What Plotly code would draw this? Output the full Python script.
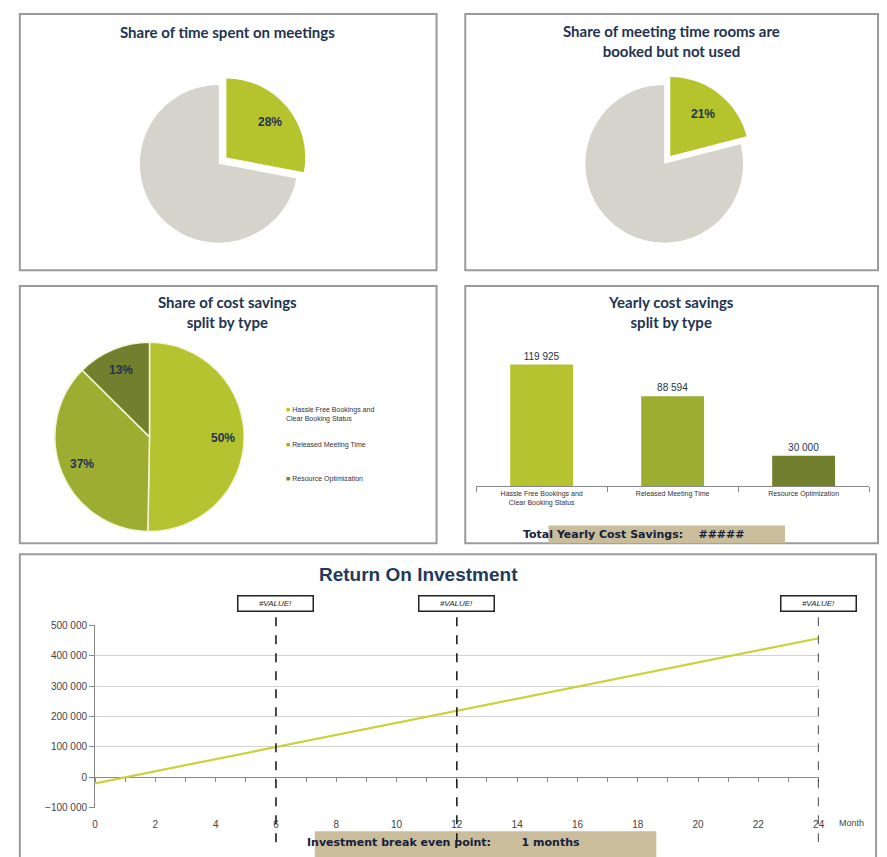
import math
import plotly.graph_objects as go

W, H = 887, 857

# ---------------- data ----------------
meeting_share_labels = ["Meetings", "Other"]
meeting_share_values = [28, 72]
unused_share_labels = ["Booked not used", "Used"]
unused_share_values = [21, 79]

saving_types = ["Hassle Free Bookings and Clear Booking Status",
                "Released Meeting Time",
                "Resource Optimization"]
saving_type_ticks = ["Hassle Free Bookings and<br>Clear Booking Status",
                     "Released Meeting Time",
                     "Resource Optimization"]
yearly_savings = [119925, 88594, 30000]

roi_months = list(range(0, 25))
roi_values = [-20000, -123, 19754, 39631, 59508, 79385, 99262, 119139, 139016,
              158893, 178770, 198647, 218524, 238401, 258278, 278155, 298032,
              317909, 337786, 357663, 377540, 397417, 417294, 437171, 457048]
marker_months = [6, 12, 24]
marker_labels = ["#VALUE!", "#VALUE!", "#VALUE!"]
y_ticks = [-100000, 0, 100000, 200000, 300000, 400000, 500000]
x_ticks = list(range(0, 25, 2))

# ---------------- style ----------------
GREEN = "#b5c32c"
GRAY = "#d6d2cc"
TYPE_COLORS = ["#b5c330", "#9dad31", "#727f2c"]
NAVY = "#22334f"
TAN = "#c9bd9b"
BORDER = "#9a9a9a"


def fx(px):
    return px / W


def fy(py):
    return 1 - py / H


def dom_x(a, b):
    return [fx(a), fx(b)]


def dom_y(top, bottom):
    return [fy(bottom), fy(top)]


fig = go.Figure()
ann = []


def pie_labels(values, cx, cy, r, frac, pulls, only=None):
    """Percent labels placed radially, computed from the slice values."""
    total = sum(values)
    start = 0.0
    for i, v in enumerate(values):
        share = v / total
        mid = (start + share / 2) * 2 * math.pi
        start += share
        if only is not None and i not in only:
            continue
        d = r * (frac + pulls[i])
        px = cx + d * math.sin(mid)
        py = cy - d * math.cos(mid)
        ann.append(dict(xref="paper", yref="paper", x=fx(px), y=fy(py),
                        text=f"<b>{round(share * 100)}%</b>", showarrow=False,
                        xanchor="center", yanchor="middle",
                        font=dict(family="Arial", size=12, color=NAVY)))


PULL = 0.125
# Pie 1
fig.add_trace(go.Pie(
    labels=meeting_share_labels, values=meeting_share_values,
    marker=dict(colors=[GREEN, GRAY], line=dict(color="white", width=0)),
    pull=[PULL, 0], sort=False, direction="clockwise", rotation=0,
    textinfo="none", showlegend=False, hoverinfo="label+percent",
    domain=dict(x=dom_x(128, 308), y=dom_y(70, 250)),
))
pie_labels(meeting_share_values, 218, 160, 80, 0.71, [PULL, 0], only=[0])

# Pie 2
fig.add_trace(go.Pie(
    labels=unused_share_labels, values=unused_share_values,
    marker=dict(colors=[GREEN, GRAY], line=dict(color="white", width=0)),
    pull=[PULL, 0], sort=False, direction="clockwise", rotation=0,
    textinfo="none", showlegend=False, hoverinfo="label+percent",
    domain=dict(x=dom_x(578, 758), y=dom_y(70, 250)),
))
pie_labels(unused_share_values, 668, 160, 80, 0.68, [PULL, 0], only=[0])

# Pie 3
fig.add_trace(go.Pie(
    labels=saving_types, values=yearly_savings,
    marker=dict(colors=TYPE_COLORS, line=dict(color="#f4f6d8", width=1.5)),
    sort=False, direction="clockwise", rotation=0,
    textinfo="none", showlegend=False, hoverinfo="label+percent",
    domain=dict(x=dom_x(52, 244), y=dom_y(341, 533)),
))
pie_labels(yearly_savings, 148, 437, 96, 0.77, [0, 0, 0])

# Bars
fig.add_trace(go.Bar(
    x=saving_type_ticks, y=yearly_savings,
    marker=dict(color=TYPE_COLORS, line=dict(width=0)),
    width=0.48,
    text=yearly_savings, texttemplate="%{y:,}", textposition="outside",
    textfont=dict(family="Arial", size=10, color=NAVY),
    cliponaxis=False, showlegend=False,
    xaxis="x", yaxis="y",
))

# ROI line
fig.add_trace(go.Scatter(
    x=roi_months, y=roi_values, mode="lines",
    line=dict(color="#c9d337", width=2.2),
    showlegend=False, xaxis="x2", yaxis="y2",
))
# invisible trace to host the minor tick axis at zero line
fig.add_trace(go.Scatter(
    x=[roi_months[0]], y=[roi_values[0]], mode="markers",
    marker=dict(opacity=0), showlegend=False, hoverinfo="skip",
    xaxis="x3", yaxis="y2",
))

y_top, y_bot = 628, 813
zero_py = y_bot - (0 - (-100000)) / 600000 * (y_bot - y_top)

fig.update_layout(
    width=W, height=H,
    margin=dict(l=0, r=0, t=0, b=0),
    paper_bgcolor="white", plot_bgcolor="white",
    separators=". ",
    font=dict(family="Arial", color="#333"),
    xaxis=dict(domain=dom_x(478, 875), anchor="y", type="category",
               showline=True, linecolor="#888", linewidth=1,
               ticks="outside", tickson="boundaries", ticklen=5, tickcolor="#888",
               tickfont=dict(family="Arial", size=7, color="#333"),
               showgrid=False, fixedrange=True),
    yaxis=dict(domain=dom_y(343, 487), anchor="x", range=[0, 140000],
               visible=False, showgrid=False, fixedrange=True),
    xaxis2=dict(domain=dom_x(93, 824), anchor="y2", range=[0, 24],
                tickvals=x_ticks, showline=False, ticks="",
                ticklabelstandoff=9,
                showgrid=False, zeroline=False,
                tickfont=dict(family="Arial", size=10, color="#444")),
    yaxis2=dict(domain=dom_y(y_top, y_bot), anchor="x2", range=[-100000, 500000],
                tickvals=y_ticks, tickformat=",d",
                showline=True, linecolor="#888", linewidth=1,
                ticks="outside", ticklen=5, tickcolor="#888",
                showgrid=True, gridcolor="#d3d3d3", gridwidth=1,
                zeroline=True, zerolinecolor="#888", zerolinewidth=1,
                tickfont=dict(family="Arial", size=10, color="#444")),
    xaxis3=dict(overlaying="x2", anchor="free", position=fy(zero_py),
                range=[0, 24], tickvals=roi_months, ticks="outside", ticklen=4,
                tickcolor="#888", showticklabels=False, showgrid=False,
                zeroline=False, showline=False),
)

shapes = []
# panel borders
for (x0, y0, x1, y1) in [(17, 8, 438, 268), (467, 8, 884, 268),
                         (17, 284, 438, 545), (467, 284, 884, 545),
                         (17, 556, 882, 875)]:
    shapes.append(dict(type="rect", xref="paper", yref="paper",
                       x0=fx(x0), x1=fx(x1), y0=fy(y1), y1=fy(y0),
                       line=dict(color=BORDER, width=2), layer="below"))
# tan banners
shapes.append(dict(type="rect", xref="paper", yref="paper",
                   x0=fx(551), x1=fx(790), y0=fy(545), y1=fy(527),
                   fillcolor=TAN, line=dict(width=0), layer="below"))
shapes.append(dict(type="rect", xref="paper", yref="paper",
                   x0=fx(315), x1=fx(660), y0=fy(870), y1=fy(837),
                   fillcolor=TAN, line=dict(width=0), layer="below"))
# dashed markers
for m in marker_months:
    shapes.append(dict(type="line", xref="x2", yref="paper",
                       x0=m, x1=m, y0=fy(848), y1=fy(616),
                       line=dict(color="#111", width=1.5, dash="dash")))
fig.update_layout(shapes=shapes)


def text(x, y, s, size, color=NAVY, family="Lato", bold=True, xanchor="center", **kw):
    ann.append(dict(xref="paper", yref="paper", x=fx(x), y=fy(y),
                    text=(f"<b>{s}</b>" if bold else s), showarrow=False,
                    xanchor=xanchor, yanchor="middle",
                    font=dict(family=family, size=size, color=color), **kw))


text(227, 26, "Share of time spent on meetings", 15)
text(675, 35, "Share of meeting time rooms are<br>booked but not used", 15)
text(227, 310, "Share of cost savings<br>split by type", 15)
text(675, 310, "Yearly cost savings<br>split by type", 15)
text(420, 577, "Return On Investment", 19, color="#1f3a5c", family="Arial")
text(857, 829, "Month", 9, color="#444", family="Arial", bold=False)
text(523, 536, "Total Yearly Cost Savings:&nbsp;&nbsp;&nbsp;&nbsp;#####", 11,
     color="#17203a", family="DejaVu Sans", xanchor="left")
text(305, 848, "Investment break even point:&nbsp;&nbsp;&nbsp;&nbsp;&nbsp;&nbsp;&nbsp;&nbsp;1 months", 11,
     color="#17203a", family="DejaVu Sans", xanchor="left")

# pie 3 legend (annotations)
legend_rows = [(410, saving_type_ticks[0]), (445, saving_types[1]), (480, saving_types[2])]
for (py, lab), col in zip(legend_rows, TYPE_COLORS):
    ann.append(dict(xref="paper", yref="paper", x=fx(284), y=fy(py),
                    text=f"<span style='color:{col}'>■</span> {lab}",
                    showarrow=False, xanchor="left", yanchor="top" if "<br>" in lab else "middle",
                    yshift=6 if "<br>" in lab else 0,
                    align="left", font=dict(family="Arial", size=7, color="#333")))

# marker boxes
for m, lab in zip(marker_months, marker_labels):
    ann.append(dict(xref="x2", yref="paper", x=m, y=fy(606), text=f"<i>{lab}</i>",
                    showarrow=False, xanchor="center", yanchor="middle",
                    width=72, height=12, bgcolor="white",
                    bordercolor="#222", borderwidth=1.5, borderpad=1,
                    font=dict(family="Arial", size=8, color="#222")))

fig.update_layout(annotations=ann)
fig.write_html(
    "out.html",
    config={"displayModeBar": False},
    post_script="document.body.style.margin='0';document.body.style.overflow='hidden';",
)
